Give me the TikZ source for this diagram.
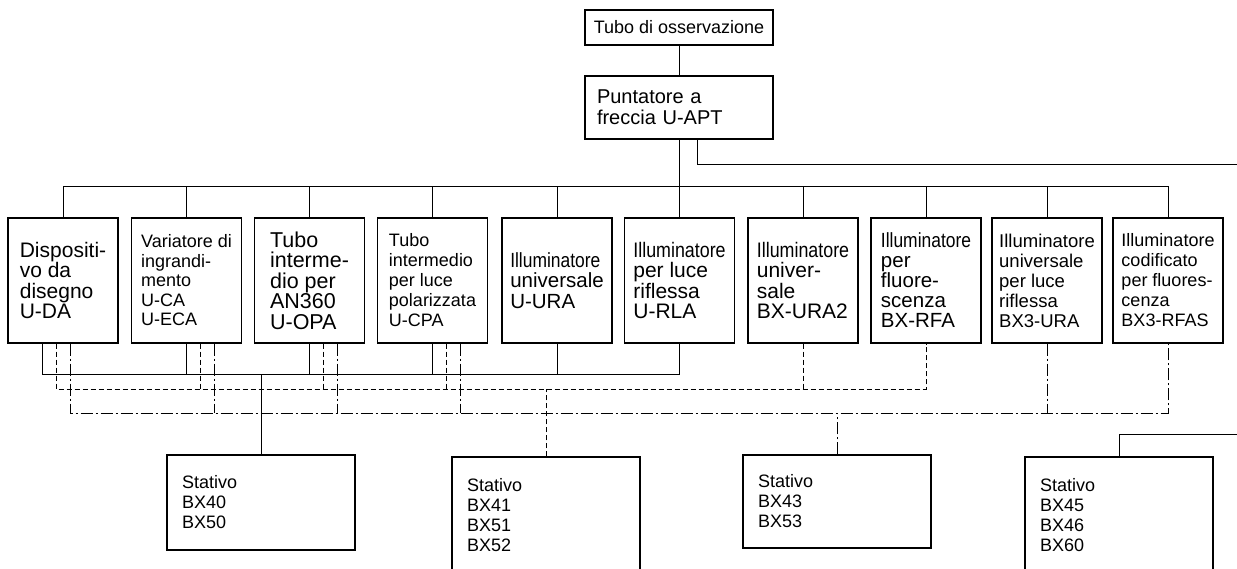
\documentclass[tikz,border=0pt]{standalone}
\usepackage{fontspec}
\setmainfont{Liberation Sans}
\newfontfamily\narrowsf[FakeStretch=0.85]{Liberation Sans}
\usetikzlibrary{calc}

\tikzset{
  unit/.style={draw,line width=1.3pt,minimum width=110pt,minimum height=125pt,align=left,inner sep=0pt},
  stand/.style={draw,line width=1.3pt,minimum width=188pt,text width=158pt,inner xsep=15pt,align=left,font=\fontsize{18}{20}\selectfont},
  link/.style={line width=0.9pt},
  dlink/.style={line width=0.9pt,dash pattern=on 5pt off 3pt},
  ddlink/.style={line width=0.9pt,dash pattern=on 12pt off 3pt on 2pt off 3pt}
}
\newcommand{\Ill}{{\narrowsf Illuminatore}}

\begin{document}
\begin{tikzpicture}[x=1pt,y=-1pt]
\useasboundingbox (0,0) rectangle (1237,569);

\node[draw,line width=1.3pt,minimum width=188pt,minimum height=35pt,inner sep=0pt,font=\fontsize{18}{20}\selectfont] (tubo) at (679,27.5) {Tubo di osservazione};
\node[draw,line width=1.3pt,minimum width=188pt,minimum height=63pt,text width=164pt,inner xsep=12pt,align=left,font=\fontsize{20}{21}\selectfont] (punt) at (679,107.5) {Puntatore a\\freccia U-APT};

% accessori
\node[unit,font=\fontsize{21}{20.5}\selectfont] (b1) at (63,280.5) {Dispositi-\\vo da\\disegno\\U-DA};
\node[unit,font=\fontsize{18}{19.5}\selectfont] (b2) at (186.5,280.5) {Variatore di\\ingrandi-\\mento\\U-CA\\U-ECA};
\node[unit,font=\fontsize{21.5}{20.5}\selectfont] (b3) at (309.5,280.5) {Tubo\\interme-\\dio per\\AN360\\U-OPA};
\node[unit,font=\fontsize{18}{20}\selectfont] (b4) at (432.5,280.5) {Tubo\\intermedio\\per luce\\polarizzata\\U-CPA};
\node[unit,font=\fontsize{20.5}{20.5}\selectfont] (b5) at (557,280.5) {\Ill\\universale\\U-URA};
\node[unit,font=\fontsize{21}{20.5}\selectfont] (b6) at (679.5,280.5) {\Ill\\per luce\\riflessa\\U-RLA};
\node[unit,font=\fontsize{21}{20.5}\selectfont] (b7) at (803,280.5) {\Ill\\univer-\\sale\\BX-URA2};
\node[unit,font=\fontsize{20.5}{20}\selectfont] (b8) at (926,280.5) {\Ill\\per\\fluore-\\scenza\\BX-RFA};
\node[unit,font=\fontsize{18.5}{20}\selectfont] (b9) at (1047,280.5) {Illuminatore\\universale\\per luce\\riflessa\\BX3-URA};
\node[unit,font=\fontsize{18}{20}\selectfont] (b10) at (1168,280.5) {Illuminatore\\codificato\\per fluores-\\cenza\\BX3-RFAS};

% stativi
\node[stand,minimum height=95pt] (s40) at (261,502.5) {Stativo\\BX40\\BX50};
\node[stand,minimum height=116pt] (s41) at (546,515) {Stativo\\BX41\\BX51\\BX52};
\node[stand,minimum height=93pt] (s43) at (837,501.5) {Stativo\\BX43\\BX53};
\node[stand,minimum height=117pt] (s45) at (1119,515.5) {Stativo\\BX45\\BX46\\BX60};

\coordinate (edgeA) at (1237,164);
\coordinate (edgeB) at (1237,434);
\coordinate (sbus) at (0,374);
\coordinate (dbus) at (0,389);
\coordinate (ddbus) at (0,413);

\draw[link] (tubo) -- (punt);
\foreach \i in {1,...,10}
  \draw[link] (punt.south) -- ++(0,47) -| (b\i.north);
\draw[link] ([xshift=18pt]punt.south) |- (edgeA);
\draw[link] (s45.north) |- (edgeB);

% linea continua
\draw[link] ([xshift=-21pt]b1.south) |- (sbus -| b6.south) -- (b6.south);
\foreach \i in {2,...,5}
  \draw[link] (b\i.south) -- (b\i.south |- sbus);
\draw[link] (s40.north) -- (s40.north |- sbus);

% linea tratteggiata
\draw[dlink] ([xshift=-7pt]b1.south) |- (dbus -| b8.south) -- (b8.south);
\foreach \i in {2,3,4}
  \draw[dlink] ([xshift=14pt]b\i.south) -- ([xshift=14pt]b\i.south |- dbus);
\draw[dlink] (b7.south) -- (b7.south |- dbus);
\draw[dlink] (s41.north) -- (s41.north |- dbus);

% linea tratto-punto
\draw[ddlink] ([xshift=7pt]b1.south) |- (ddbus -| b10.south) -- (b10.south);
\foreach \i in {2,3,4}
  \draw[ddlink] ([xshift=28pt]b\i.south) -- ([xshift=28pt]b\i.south |- ddbus);
\draw[ddlink] (b9.south) -- (b9.south |- ddbus);
\draw[ddlink] (s43.north) -- (s43.north |- ddbus);
\end{tikzpicture}
\end{document}
